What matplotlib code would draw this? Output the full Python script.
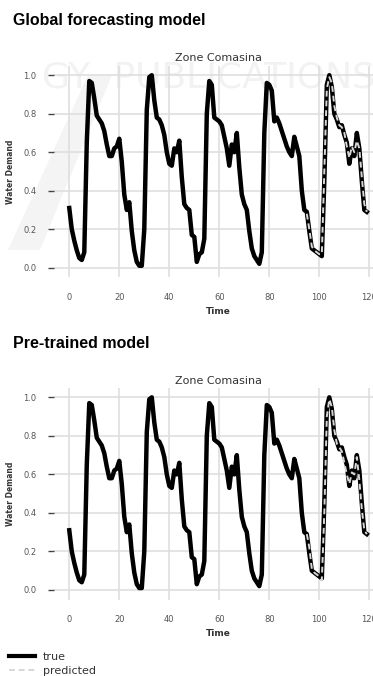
import matplotlib
matplotlib.use("Agg")
import matplotlib.pyplot as plt
from matplotlib.lines import Line2D
from matplotlib.patches import Polygon

# ---- data ----
time = list(range(120))
true_demand = [
    0.31, 0.20, 0.14, 0.09, 0.05, 0.04, 0.08, 0.65, 0.97, 0.96,
    0.88, 0.79, 0.77, 0.75, 0.71, 0.64, 0.58, 0.58, 0.62, 0.63,
    0.67, 0.55, 0.38, 0.30, 0.34, 0.19, 0.09, 0.03, 0.01, 0.01,
    0.20, 0.82, 0.99, 1.00, 0.87, 0.78, 0.77, 0.74, 0.69, 0.60,
    0.54, 0.53, 0.62, 0.60, 0.66, 0.47, 0.33, 0.31, 0.30, 0.17,
    0.16, 0.03, 0.07, 0.08, 0.15, 0.80, 0.97, 0.95, 0.78, 0.77,
    0.76, 0.74, 0.68, 0.62, 0.53, 0.64, 0.60, 0.70, 0.52, 0.38,
    0.33, 0.30, 0.19, 0.10, 0.06, 0.04, 0.02, 0.08, 0.70, 0.96,
    0.95, 0.92, 0.76, 0.78, 0.75, 0.71, 0.67, 0.63, 0.60, 0.58,
    0.68, 0.63, 0.58, 0.40, 0.30, 0.29, 0.19, 0.10, 0.09, 0.08,
    0.07, 0.06, 0.45, 0.95, 1.00, 0.94, 0.80, 0.77, 0.73, 0.74,
    0.69, 0.65, 0.54, 0.62, 0.58, 0.70, 0.62, 0.45, 0.30, 0.29,
]
pred_time = list(range(95, 120))
pred_global = [
    0.28, 0.20, 0.11, 0.09, 0.08, 0.07, 0.07, 0.50, 0.93, 0.99,
    0.96, 0.84, 0.78, 0.74, 0.73, 0.70, 0.63, 0.57, 0.63, 0.60,
    0.66, 0.62, 0.47, 0.33, 0.29,
]
pred_pretrained = [
    0.29, 0.22, 0.11, 0.09, 0.08, 0.07, 0.05, 0.40, 0.90, 0.99,
    0.95, 0.83, 0.76, 0.74, 0.72, 0.66, 0.60, 0.55, 0.61, 0.60,
    0.69, 0.57, 0.42, 0.31, 0.29,
]
panel_titles = ["Global forecasting model", "Pre-trained model"]
subtitle = "Zone Comasina"
xticks = [0, 20, 40, 60, 80, 100, 120]
yticks = [0.0, 0.2, 0.4, 0.6, 0.8, 1.0]

W, H = 373, 676
fig = plt.figure(figsize=(W / 100, H / 100), dpi=100)
fig.patch.set_facecolor("white")

# faint watermark (background of the source page)
fig.text(0.56, 1 - 77 / H, "GY  PUBLICATIONS", fontsize=26, color="#f2f2f2",
         ha="center", va="center", zorder=-1, family="DejaVu Sans")
fig.patches.append(Polygon([(88 / W, 1 - 75 / H), (112 / W, 1 - 75 / H),
                            (40 / W, 1 - 250 / H), (8 / W, 1 - 250 / H)],
                           closed=True, transform=fig.transFigure,
                           facecolor="#f4f4f4", edgecolor="none", zorder=-1))

def px(x0, x1, y0, y1):
    return [x0 / W, 1 - y1 / H, (x1 - x0) / W, (y1 - y0) / H]

axes_rects = [px(54.4, 381.7, 65.6, 277.3), px(54.4, 381.7, 387.7, 599.6)]
preds = [pred_global, pred_pretrained]
title_y = [20, 343]

for i in range(2):
    ax = fig.add_axes(axes_rects[i])
    ax.set_zorder(2)
    ax.set_facecolor("none")
    ax.plot(time, true_demand, color="black", lw=3.2, solid_joinstyle="round",
            zorder=3)
    ax.plot(pred_time, preds[i], color="#d6d6d6", lw=1.4, ls=(0, (3, 2)),
            zorder=4)
    ax.set_xlim(-5.95, 124.95)
    ax.set_ylim(-0.05, 1.05)
    ax.set_xticks(xticks)
    ax.set_yticks(yticks)
    ax.set_yticklabels([f"{v:.1f}" for v in yticks])
    ax.grid(True, color="#dddddd", lw=1.1)
    ax.set_axisbelow(True)
    for s in ax.spines.values():
        s.set_visible(False)
    ax.tick_params(axis="y", length=4, width=1, color="#444444",
                   labelsize=6, labelcolor="#555555", pad=9)
    ax.tick_params(axis="x", length=0, labelsize=6, labelcolor="#555555",
                   pad=11)
    ax.set_xlabel("Time", fontsize=6.5, fontweight="bold", color="#333333",
                  labelpad=4)
    ax.set_ylabel("Water Demand", fontsize=5.5, fontweight="bold",
                  color="#333333", labelpad=6)
    ax.set_title(subtitle, fontsize=8, color="#333333", pad=3)
    fig.text(13 / W, 1 - title_y[i] / H, panel_titles[i],
             fontsize=11.5, fontweight="bold", family="Liberation Sans",
             ha="left", va="center", color="black", zorder=3)

handles = [Line2D([], [], color="black", lw=3.0),
           Line2D([], [], color="#d6d6d6", lw=1.4, ls=(0, (3, 2)))]
leg = fig.legend(handles, ["true", "predicted"], loc="upper left",
                 bbox_to_anchor=(0.005, 1 - 645 / H), frameon=False,
                 fontsize=8, handlelength=2.4, handletextpad=0.7,
                 labelspacing=0.35, borderaxespad=0.2, labelcolor="#333333")
leg.set_zorder(3)

fig.savefig("out.png", dpi=100)
